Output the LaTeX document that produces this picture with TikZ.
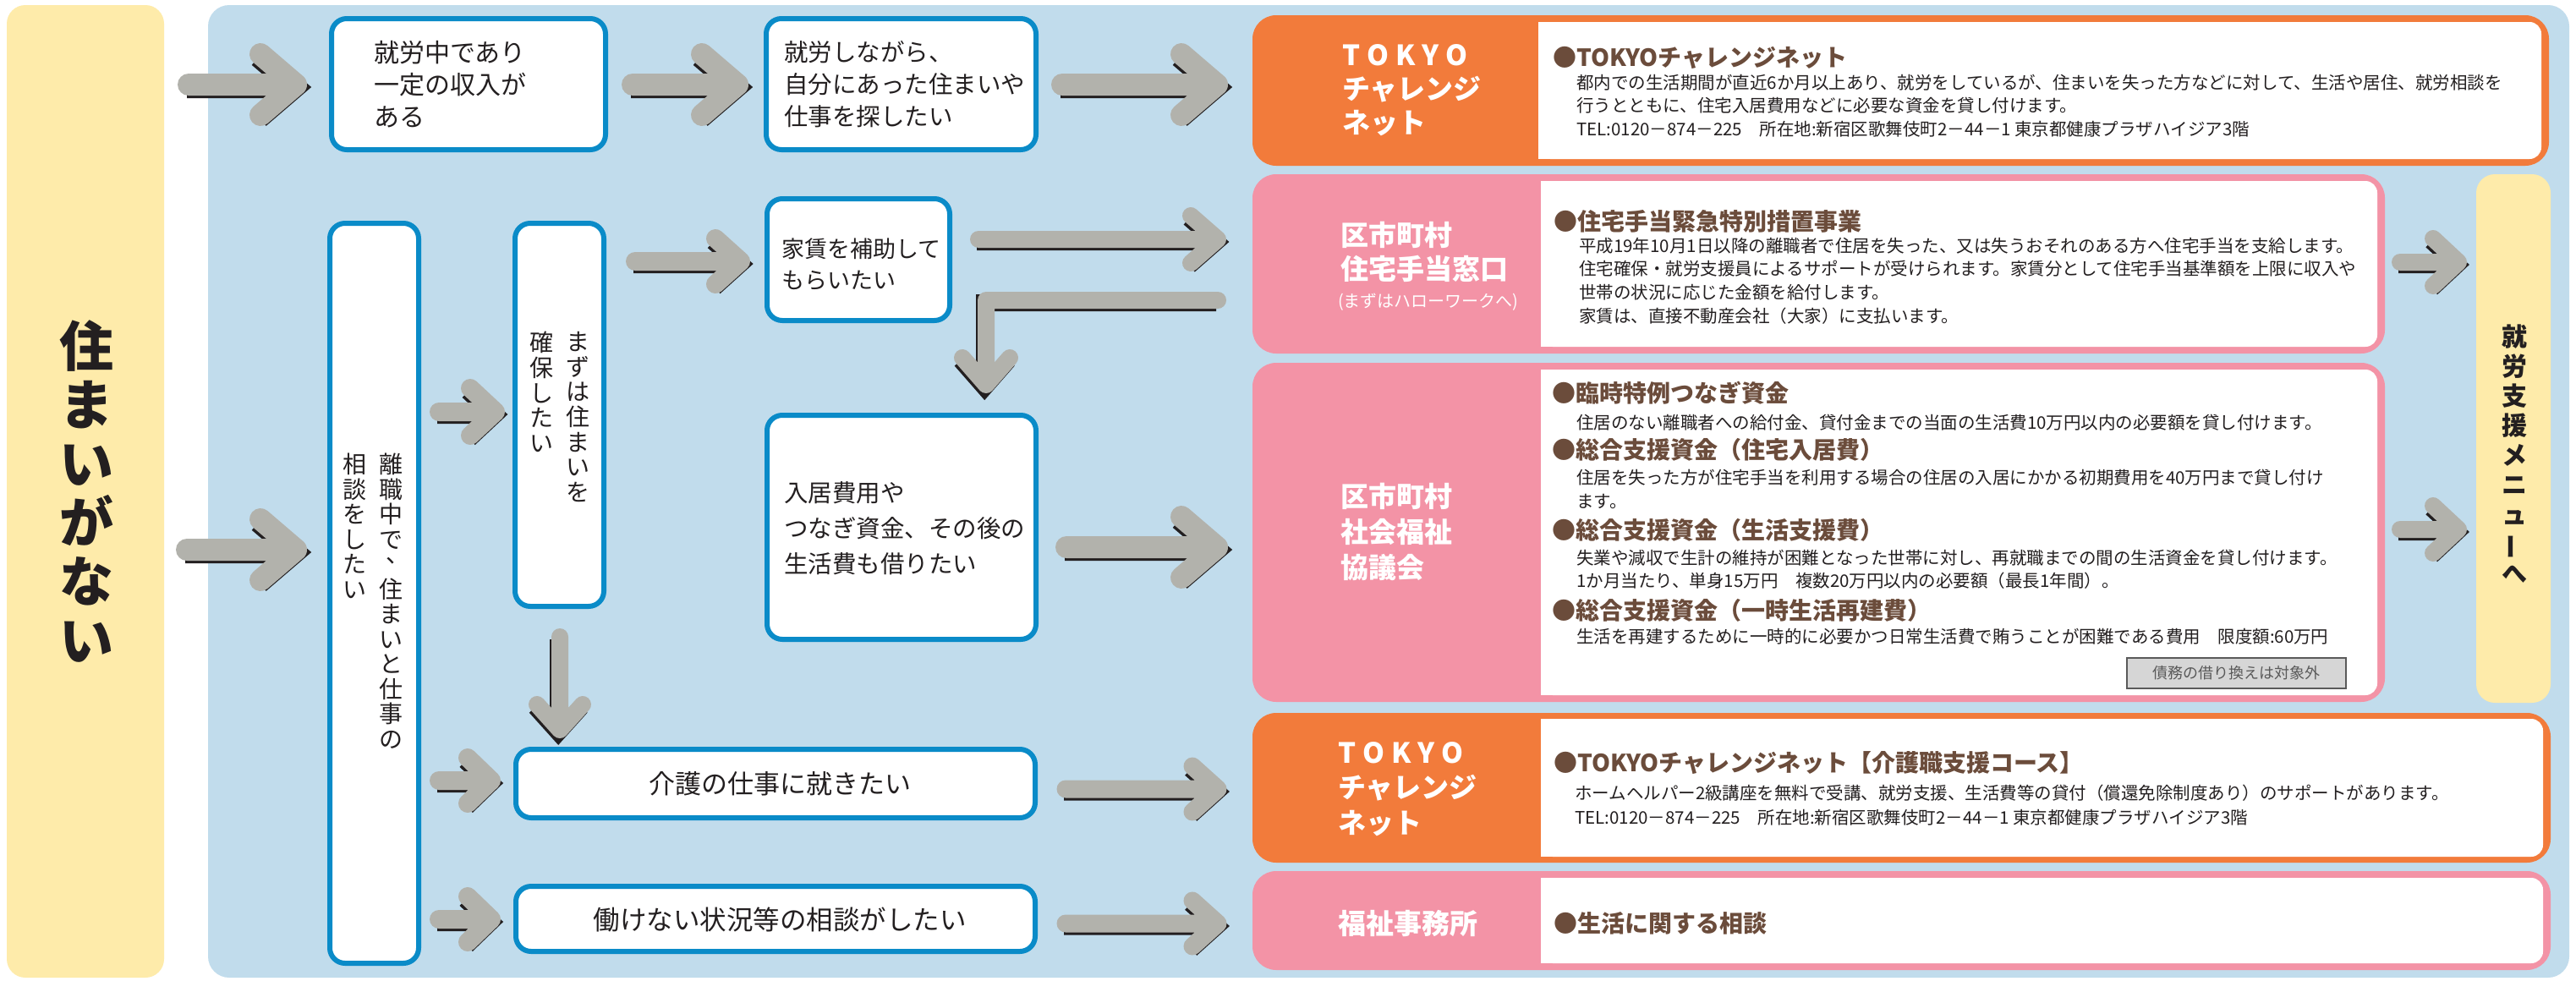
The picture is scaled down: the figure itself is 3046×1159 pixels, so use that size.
\documentclass[tikz,border=0pt]{standalone}
\usepackage{fontspec}
\setmainfont{Noto Sans CJK JP}
\usepackage{graphicx}
\definecolor{yellowc}{HTML}{FEEBAA}
\definecolor{bluebg}{HTML}{C1DCEC}
\definecolor{boxblue}{HTML}{0A8BC8}
\definecolor{orangec}{HTML}{F27B3B}
\definecolor{pinkc}{HTML}{F393A6}
\definecolor{arrgray}{HTML}{B2B2AC}
\definecolor{arrshadow}{HTML}{231F20}
\definecolor{brownc}{HTML}{6B4C3B}
\definecolor{textc}{HTML}{231F20}
\definecolor{grayboxc}{HTML}{D6D6D6}
\definecolor{grayboxline}{HTML}{5A5A5A}
\newcommand\fs[2]{\fontsize{#1}{#2}\selectfont}
\newcommand\vcm{\makebox[1em][l]{\hspace{0.3em}\raisebox{0.45em}[0.8em][0.1em]{、}}}
\newcommand\vbar{\rotatebox[origin=c]{90}{ー}}
\newcommand\lsp{\kern 8pt}
\newcommand\rarr[5]{\draw[fat=#5] (#1) -- (#2) ++(-#3,-#4) -- (#2) -- ++(-#3,#4);}
\newcommand\darr[5]{\draw[fat=#5] (#1) -- (#2) ++(-#4,-#3) -- (#2) -- ++(#4,-#3);}
\tikzset{
  fat/.style={line width=#1, draw=arrgray, line cap=round, line join=round,
    preaction={draw=arrshadow, line width=#1, transform canvas={shift={(-1.8pt,-3pt)}}}},
  bbox/.style={draw=boxblue, line width=6pt, fill=white, rounded corners=18pt},
  bt/.style={text=textc, inner sep=0pt, align=left, anchor=west},
  ct/.style={text=textc, inner sep=0pt},
  vt/.style={text=textc, inner sep=0pt, align=center, anchor=north},
  lbl/.style={text=white, font=\bfseries\fs{33}{40}, align=left, anchor=west, inner sep=0pt},
  hd/.style={text=brownc, font=\bfseries\fs{28}{34}, anchor=west, inner sep=0pt},
  bd/.style={text=textc, font=\fs{20.5}{27.6}, align=left, anchor=west, inner sep=0pt},
}
\begin{document}
\begin{tikzpicture}[x=1pt,y=-1pt]
\useasboundingbox (0,0) rectangle (3046,1159);
\fill[white] (0,0) rectangle (3046,1159);
% backgrounds
\fill[yellowc, rounded corners=22pt] (8,6) rectangle (194,1156);
\fill[bluebg, rounded corners=25pt] (246,6) rectangle (3038,1156);
% question boxes
\draw[bbox] (392,22) rectangle (716,177);
\draw[bbox] (906,22) rectangle (1225,177);
\draw[bbox] (390,264) rectangle (495,1139);
\draw[bbox] (609,264) rectangle (714,717);
\draw[bbox] (907,235) rectangle (1123,379);
\draw[bbox] (907,491) rectangle (1225,756);
\draw[bbox] (610,886) rectangle (1224,967);
\draw[bbox] (610,1048) rectangle (1224,1125);
% service boxes
\fill[orangec, rounded corners=28pt] (1481,18) rectangle (3014,196);
\fill[white, rounded corners=14pt] (1819,26) rectangle (3005,188);
\fill[white] (1819,26) rectangle (1900,188);
\fill[pinkc, rounded corners=28pt] (1481,206) rectangle (2820,418);
\fill[white, rounded corners=14pt] (1822,214) rectangle (2811,410);
\fill[white] (1822,214) rectangle (1900,410);
\fill[pinkc, rounded corners=28pt] (1481,429) rectangle (2820,830);
\fill[white, rounded corners=14pt] (1822,437) rectangle (2811,822);
\fill[white] (1822,437) rectangle (1900,822);
\fill[orangec, rounded corners=28pt] (1481,843) rectangle (3016,1020);
\fill[white, rounded corners=14pt] (1822,850) rectangle (3007,1013);
\fill[white] (1822,850) rectangle (1900,1013);
\fill[pinkc, rounded corners=28pt] (1481,1030) rectangle (3016,1147);
\fill[white, rounded corners=14pt] (1822,1038) rectangle (3007,1139);
\fill[white] (1822,1038) rectangle (1900,1139);
\fill[yellowc, rounded corners=22pt] (2928,206) rectangle (3016,831);
\draw[fill=grayboxc, draw=grayboxline, line width=2.5pt] (2515,778) rectangle (2774,814);
% arrow end points
\coordinate (a1s) at (223,100); \coordinate (a1t) at (350,100);
\coordinate (a2s) at (748,100); \coordinate (a2t) at (872,100);
\coordinate (a3s) at (1256,100); \coordinate (a3t) at (1439,100);
\coordinate (a4s) at (221,650); \coordinate (a4t) at (350,650);
\coordinate (a5s) at (519,487); \coordinate (a5t) at (586,487);
\coordinate (a6s) at (751,309); \coordinate (a6t) at (876,309);
\coordinate (a7s) at (1157,283); \coordinate (a7t) at (1440,283);
\coordinate (a8s) at (1440,355); \coordinate (a8c) at (1166,355); \coordinate (a8t) at (1166,455);
\coordinate (a9s) at (662,753); \coordinate (a9t) at (662,863);
\coordinate (a10s) at (1261,647); \coordinate (a10t) at (1439,647);
\coordinate (a11s) at (519,923); \coordinate (a11t) at (581,923);
\coordinate (a12s) at (519,1087); \coordinate (a12t) at (581,1087);
\coordinate (a13s) at (1260,933); \coordinate (a13t) at (1440,933);
\coordinate (a14s) at (1260,1092); \coordinate (a14t) at (1440,1092);
\coordinate (a15s) at (2838,310); \coordinate (a15t) at (2907,310);
\coordinate (a16s) at (2838,626); \coordinate (a16t) at (2907,626);
% arrows
\rarr{a1s}{a1t}{42}{36}{26}
\rarr{a2s}{a2t}{42}{36}{26}
\rarr{a3s}{a3t}{42}{36}{26}
\rarr{a4s}{a4t}{42}{36}{26}
\rarr{a5s}{a5t}{30}{28}{22}
\rarr{a6s}{a6t}{30}{27}{22}
\rarr{a7s}{a7t}{32}{28}{20}
\draw[fat=20] (a8s) -- (a8c) -- (a8t) ++(-28,-32) -- (a8t) -- ++(28,-32);
\darr{a9s}{a9t}{30}{27}{20}
\rarr{a10s}{a10t}{42}{36}{26}
\rarr{a11s}{a11t}{28}{27}{22}
\rarr{a12s}{a12t}{28}{27}{22}
\rarr{a13s}{a13t}{30}{27}{21}
\rarr{a14s}{a14t}{30}{27}{21}
\rarr{a15s}{a15t}{30}{28}{20}
\rarr{a16s}{a16t}{30}{28}{20}
% vertical texts
\node[vt, font=\bfseries\fs{64}{69.6}] (v5) at (102,378) {住\\ま\\い\\が\\な\\い};
\node[vt, font=\fs{28}{29.5}] (v1) at (462,536) {離\\職\\中\\で\\\vcm\\住\\ま\\い\\と\\仕\\事\\の};
\node[vt, font=\fs{28}{29.5}] (v2) at (419,536) {相\\談\\を\\し\\た\\い};
\node[vt, font=\fs{28}{29.7}] (v3) at (683,392) {ま\\ず\\は\\住\\ま\\い\\を};
\node[vt, font=\fs{28}{29.7}] (v4) at (640,392) {確\\保\\し\\た\\い};
\node[vt, font=\bfseries\fs{30}{34.9}] (v6) at (2973,384) {就\\労\\支\\援\\メ\\ニ\\ュ\\\vbar\\へ};
% question texts
\node[bt, font=\fs{30}{38}] (t1) at (442,100) {就労中であり\\一定の収入が\\ある};
\node[bt, font=\fs{28.5}{38}] (t2) at (927,100) {就労しながら、\\自分にあった住まいや\\仕事を探したい};
\node[bt, font=\fs{27}{37}] (t3) at (924,313) {家賃を補助して\\もらいたい};
\node[bt, font=\fs{28.5}{42}] (t4) at (927,625) {入居費用や\\つなぎ資金、その後の\\生活費も借りたい};
\node[ct, font=\fs{31}{36}] (t5) at (922,927) {介護の仕事に就きたい};
\node[ct, font=\fs{31.5}{36}] (t6) at (922,1088) {働けない状況等の相談がしたい};
% service labels
\node[lbl] (L1) at (1587,107) {T\lsp O\lsp K\lsp Y\lsp O\\チャレンジ\\ネット};
\node[lbl] (L2) at (1585,298) {区市町村\\住宅手当窓口};
\node[text=white, font=\fs{20}{24}, anchor=west, inner sep=0pt] (L2b) at (1582,357) {(まずはハローワークへ)};
\node[lbl, font=\bfseries\fs{33}{42}] (L3) at (1585,629) {区市町村\\社会福祉\\協議会};
\node[lbl, font=\bfseries\fs{33}{41.5}] (L4) at (1582,933) {T\lsp O\lsp K\lsp Y\lsp O\\チャレンジ\\ネット};
\node[lbl] (L5) at (1582,1092) {福祉事務所};
% service descriptions
\node[hd] (h1) at (1836,68) {●TOKYOチャレンジネット};
\node[bd] (b1) at (1864,125) {都内での生活期間が直近6か月以上あり、就労をしているが、住まいを失った方などに対して、生活や居住、就労相談を\\行うとともに、住宅入居費用などに必要な資金を貸し付けます。\\TEL:0120－874－225　所在地:新宿区歌舞伎町2－44－1 東京都健康プラザハイジア3階};
\node[hd] (h2) at (1837,262) {●住宅手当緊急特別措置事業};
\node[bd] (b2) at (1867,332) {平成19年10月1日以降の離職者で住居を失った、又は失うおそれのある方へ住宅手当を支給します。\\住宅確保・就労支援員によるサポートが受けられます。家賃分として住宅手当基準額を上限に収入や\\世帯の状況に応じた金額を給付します。\\家賃は、直接不動産会社（大家）に支払います。};
\node[hd] (h3) at (1835,465) {●臨時特例つなぎ資金};
\node[bd] (b3) at (1864,500) {住居のない離職者への給付金、貸付金までの当面の生活費10万円以内の必要額を貸し付けます。};
\node[hd] (h4) at (1835,532) {●総合支援資金（住宅入居費）};
\node[bd] (b4) at (1864,578.5) {住居を失った方が住宅手当を利用する場合の住居の入居にかかる初期費用を40万円まで貸し付け\\ます。};
\node[hd] (h5) at (1835,627) {●総合支援資金（生活支援費）};
\node[bd] (b5) at (1864,673.5) {失業や減収で生計の維持が困難となった世帯に対し、再就職までの間の生活資金を貸し付けます。\\1か月当たり、単身15万円　複数20万円以内の必要額（最長1年間）。};
\node[hd] (h6) at (1835,722) {●総合支援資金（一時生活再建費）};
\node[bd] (b6) at (1864,753) {生活を再建するために一時的に必要かつ日常生活費で賄うことが困難である費用　限度額:60万円};
\node[ct, text=grayboxline, font=\fs{18}{22}] (g1) at (2644.5,796) {債務の借り換えは対象外};
\node[hd] (h7) at (1837,902) {●TOKYOチャレンジネット【介護職支援コース】};
\node[bd, font=\fs{20.5}{29}] (b7) at (1862,952.5) {ホームヘルパー2級講座を無料で受講、就労支援、生活費等の貸付（償還免除制度あり）のサポートがあります。\\TEL:0120－874－225　所在地:新宿区歌舞伎町2－44－1 東京都健康プラザハイジア3階};
\node[hd] (h8) at (1837,1092) {●生活に関する相談};
\end{tikzpicture}
\end{document}
